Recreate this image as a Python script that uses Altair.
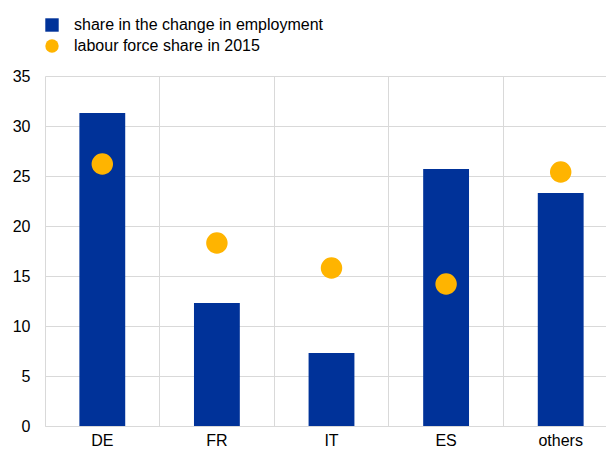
import altair as alt
import pandas as pd

categories = ["DE", "FR", "IT", "ES", "others"]
share_change = [31.3, 12.3, 7.3, 25.7, 23.3]
labour_share = [26.2, 18.3, 15.8, 14.2, 25.4]
series_names = ["share in the change in employment", "labour force share in 2015"]

bars = pd.DataFrame({"cat": categories, "value": share_change, "series": series_names[0]})
pts = pd.DataFrame({"cat": categories, "value": labour_share, "series": series_names[1]})

FONT = "Liberation Sans"

x = alt.X("cat:N", sort=categories, title=None,
          scale=alt.Scale(paddingInner=0, paddingOuter=0, range=[0, 573]),
          axis=alt.Axis(grid=True, bandPosition=0, ticks=False, domain=True,
                        domainColor="#d9d9d9", gridColor="#d9d9d9", labelAngle=0,
                        labelFontSize=16, labelFont=FONT, labelColor="#000000",
                        labelPadding=6))
y = alt.Y("value:Q", title=None,
          scale=alt.Scale(domain=[0, 35]),
          axis=alt.Axis(values=[0, 5, 10, 15, 20, 25, 30, 35], grid=True, ticks=False,
                        domain=False, gridColor="#d9d9d9", labelFontSize=16,
                        labelFont=FONT, labelColor="#000000", labelPadding=15))

bar_layer = alt.Chart(bars).mark_bar(color="#003299", width=alt.RelativeBandSize(0.4)).encode(x=x, y=y)

point_layer = alt.Chart(pts).mark_point(filled=True, opacity=1, size=460).encode(
    x=x, y=y,
    color=alt.Color("series:N", scale=alt.Scale(domain=series_names, range=["#003299", "#FFB400"]),
                    legend=alt.Legend(orient="none", legendX=-1, legendY=-59, title=None,
                                      labelFontSize=16, labelFont=FONT, labelColor="#000000",
                                      labelLimit=0, symbolSize=180, labelOffset=14, rowPadding=5,
                                      symbolStrokeWidth=0, symbolOpacity=1)),
    shape=alt.Shape("series:N", scale=alt.Scale(domain=series_names, range=["square", "circle"]),
                    legend=alt.Legend(orient="none", legendX=-1, legendY=-59, title=None)),
)

chart = alt.layer(bar_layer, point_layer).properties(
    width=561, height=350,
    autosize=alt.AutoSizeParams(type="none"),
    padding={"left": 37, "top": 68, "right": 0, "bottom": 26},
).configure_view(stroke=None)

chart.save("out.html", embed_options={"renderer": "svg", "actions": False})
